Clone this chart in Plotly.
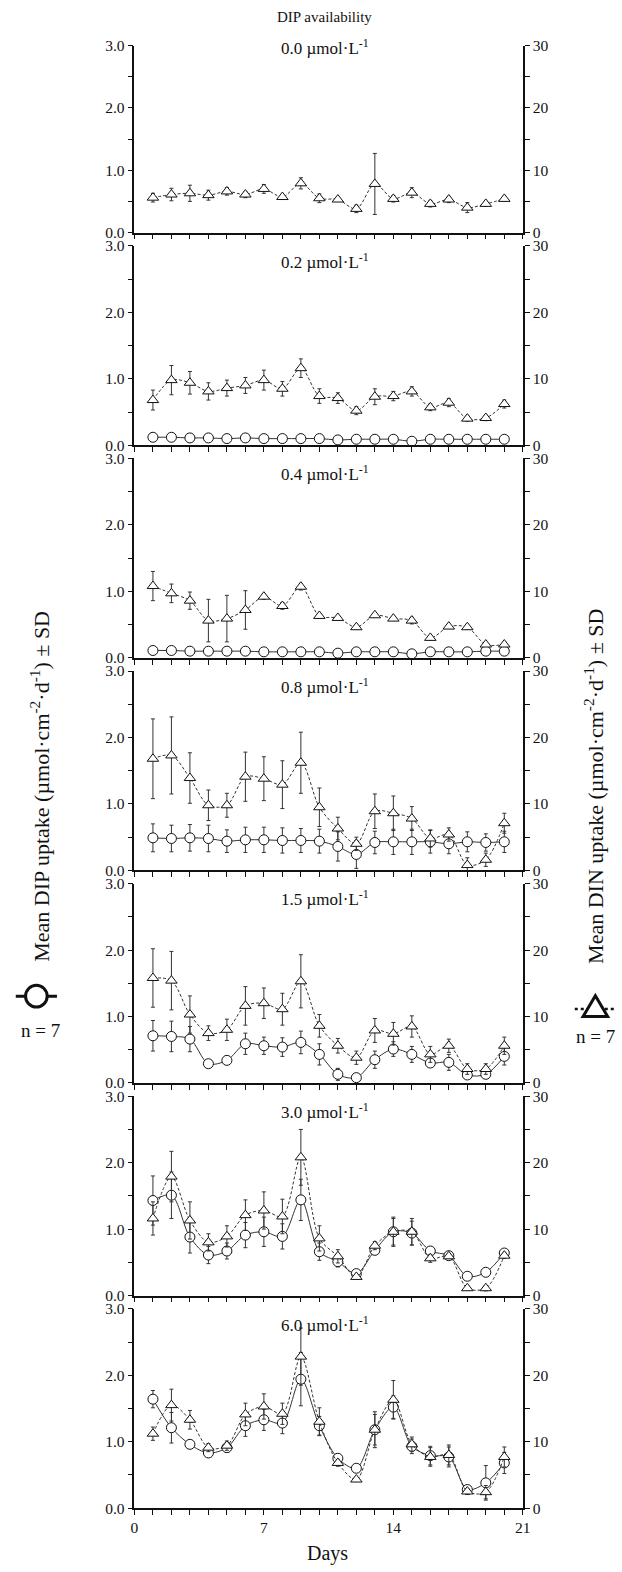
import plotly.graph_objects as go

# ---- data -------------------------------------------------------------
DAYS = [1, 2, 3, 4, 5, 6, 7, 8, 9, 10, 11, 12, 13, 14, 15, 16, 17, 18, 19, 20]
DIP_LEVELS = ["0.0", "0.2", "0.4", "0.8", "1.5", "3.0", "6.0"]

# DIP uptake (left axis, µmol·cm-2·d-1); no DIP series without phosphate
dip_00 = None
dip_00_sd = None
dip_02 = [0.12, 0.12, 0.11, 0.11, 0.10, 0.11, 0.10, 0.10, 0.10, 0.10, 0.08, 0.09, 0.09, 0.09, 0.06, 0.09, 0.09, 0.09, 0.09, 0.09]
dip_02_sd = [0.01, 0.01, 0.01, 0.01, 0.01, 0.01, 0.01, 0.01, 0.01, 0.01, 0.01, 0.01, 0.01, 0.01, 0.01, 0.01, 0.01, 0.01, 0.01, 0.01]
dip_04 = [0.11, 0.11, 0.10, 0.10, 0.10, 0.10, 0.09, 0.09, 0.09, 0.09, 0.07, 0.09, 0.09, 0.09, 0.06, 0.09, 0.09, 0.09, 0.10, 0.10]
dip_04_sd = [0.01, 0.01, 0.01, 0.01, 0.01, 0.01, 0.01, 0.01, 0.01, 0.01, 0.01, 0.01, 0.01, 0.01, 0.01, 0.01, 0.01, 0.01, 0.01, 0.01]
dip_08 = [0.49, 0.48, 0.49, 0.48, 0.44, 0.46, 0.46, 0.45, 0.45, 0.44, 0.36, 0.24, 0.42, 0.43, 0.43, 0.43, 0.40, 0.43, 0.42, 0.43]
dip_08_sd = [0.21, 0.20, 0.20, 0.20, 0.17, 0.19, 0.19, 0.19, 0.18, 0.18, 0.22, 0.21, 0.17, 0.19, 0.19, 0.17, 0.15, 0.15, 0.13, 0.16]
dip_15 = [0.71, 0.70, 0.66, 0.29, 0.34, 0.59, 0.56, 0.54, 0.61, 0.43, 0.13, 0.08, 0.35, 0.51, 0.43, 0.30, 0.31, 0.12, 0.13, 0.40]
dip_15_sd = [0.23, 0.23, 0.19, 0.02, 0.02, 0.16, 0.13, 0.14, 0.17, 0.16, 0.09, 0.05, 0.13, 0.11, 0.12, 0.05, 0.12, 0.04, 0.06, 0.13]
dip_30 = [1.43, 1.51, 0.88, 0.61, 0.67, 0.91, 0.96, 0.89, 1.44, 0.66, 0.51, 0.33, 0.68, 0.96, 0.94, 0.67, 0.60, 0.29, 0.35, 0.64]
dip_30_sd = [0.37, 0.35, 0.24, 0.13, 0.12, 0.19, 0.22, 0.19, 0.31, 0.13, 0.08, 0.03, 0.06, 0.20, 0.18, 0.06, 0.03, 0.03, 0.04, 0.04]
dip_60 = [1.64, 1.21, 0.96, 0.83, 0.91, 1.24, 1.33, 1.28, 1.94, 1.24, 0.75, 0.60, 1.18, 1.52, 0.93, 0.79, 0.77, 0.28, 0.38, 0.68]
dip_60_sd = [0.13, 0.23, 0.03, 0.06, 0.07, 0.16, 0.16, 0.16, 0.40, 0.14, 0.05, 0.03, 0.23, 0.17, 0.11, 0.14, 0.15, 0.04, 0.26, 0.16]

# DIN uptake (right axis, µmol·cm-2·d-1)
din_00 = [5.6, 6.1, 6.3, 6.0, 6.6, 6.1, 7.0, 5.7, 7.9, 5.5, 5.3, 3.8, 7.8, 5.4, 6.4, 4.6, 5.3, 4.0, 4.6, 5.4]
din_00_sd = [0.7, 1.0, 1.3, 0.8, 0.6, 0.5, 0.7, 0.4, 0.9, 0.7, 0.3, 0.6, 4.9, 0.5, 0.8, 0.5, 0.5, 0.8, 0.4, 0.4]
din_02 = [6.8, 9.8, 9.4, 8.1, 8.6, 9.0, 9.8, 8.5, 11.6, 7.4, 7.1, 5.2, 7.3, 7.4, 8.1, 5.7, 6.4, 4.0, 4.1, 6.2]
din_02_sd = [1.5, 2.2, 1.7, 1.3, 1.2, 1.2, 1.5, 1.1, 1.4, 1.1, 0.8, 0.6, 1.2, 0.7, 0.7, 0.5, 0.6, 0.4, 0.4, 0.6]
din_04 = [10.8, 9.7, 8.6, 5.6, 5.9, 7.2, 9.2, 7.8, 10.7, 6.3, 6.0, 4.6, 6.4, 5.9, 5.6, 3.0, 4.7, 4.6, 2.0, 2.0]
din_04_sd = [2.2, 1.4, 1.3, 3.2, 3.5, 2.9, 0.4, 0.5, 0.5, 0.3, 0.3, 0.3, 0.3, 0.3, 0.5, 0.3, 0.3, 0.3, 0.3, 0.3]
din_08 = [16.8, 17.3, 13.9, 9.8, 9.8, 14.1, 13.8, 12.9, 16.2, 9.5, 6.3, 4.0, 8.9, 8.6, 7.8, 4.8, 5.4, 0.8, 1.6, 7.1]
din_08_sd = [6.0, 5.8, 3.8, 2.3, 1.8, 3.7, 3.3, 3.6, 4.6, 2.9, 1.7, 1.0, 2.6, 2.6, 1.8, 1.3, 1.0, 1.1, 1.0, 1.5]
din_15 = [15.8, 15.4, 10.3, 7.5, 8.0, 11.6, 12.0, 11.1, 15.3, 8.6, 5.6, 3.8, 7.9, 7.4, 8.5, 4.3, 5.6, 2.1, 2.1, 5.6]
din_15_sd = [4.4, 4.4, 2.8, 1.1, 1.6, 2.9, 2.3, 2.4, 4.0, 1.7, 1.1, 1.0, 1.8, 1.7, 1.6, 1.2, 1.0, 0.8, 0.8, 1.3]
din_30 = [11.6, 17.9, 11.3, 8.0, 8.9, 12.1, 12.8, 11.9, 20.8, 8.6, 5.9, 2.8, 7.5, 9.6, 9.6, 5.6, 5.9, 1.1, 1.1, 6.0]
din_30_sd = [2.5, 3.8, 2.8, 1.3, 1.6, 2.3, 2.8, 2.6, 4.2, 1.9, 1.0, 0.3, 0.6, 2.2, 2.0, 0.6, 0.3, 0.3, 0.4, 0.4]
din_60 = [11.2, 15.5, 13.3, 9.1, 9.4, 14.1, 15.3, 14.2, 22.8, 13.0, 6.8, 4.3, 11.8, 16.3, 9.6, 7.7, 8.0, 2.5, 2.4, 7.7]
din_60_sd = [1.0, 2.4, 1.4, 0.6, 0.7, 1.7, 1.9, 1.6, 4.3, 2.1, 0.5, 0.3, 2.7, 2.9, 1.1, 1.4, 1.5, 0.4, 1.0, 1.5]

DIP_SERIES = [(dip_00, dip_00_sd), (dip_02, dip_02_sd), (dip_04, dip_04_sd), (dip_08, dip_08_sd),
              (dip_15, dip_15_sd), (dip_30, dip_30_sd), (dip_60, dip_60_sd)]
DIN_SERIES = [(din_00, din_00_sd), (din_02, din_02_sd), (din_04, din_04_sd), (din_08, din_08_sd),
              (din_15, din_15_sd), (din_30, din_30_sd), (din_60, din_60_sd)]

# ---- geometry (pixels) --------------------------------------------------
W, H = 622, 1572
PLOT_L, PLOT_R = 133, 529
FIRST_TOP, FIRST_BOTTOM = 37, 226          # top panel is a little shorter
REST_TOP, REST_PITCH, REST_H = 239.5, 214.9, 201.5
SERIF = "Liberation Serif, Times New Roman, serif"
INK = "#111111"
LINE_INK = "#333333"


def fx(px):
    return px / W


def fy(py):
    return 1 - py / H


def panel_box(i):
    if i == 0:
        return FIRST_TOP, FIRST_BOTTOM
    top = REST_TOP + (i - 1) * REST_PITCH
    return top, top + REST_H


def tick_style(dtick, minor_dtick, fmt=None):
    d = dict(
        showline=True, linecolor=INK, linewidth=1.5, showgrid=False, zeroline=False,
        ticks="outside", tickmode="linear", tick0=0, dtick=dtick, ticklen=5, tickwidth=1.2,
        tickcolor=INK, tickfont=dict(family=SERIF, size=15.5, color=INK),
        minor=dict(ticks="outside", dtick=minor_dtick, tick0=0, ticklen=5, tickwidth=1.2,
                   tickcolor=INK),
    )
    if fmt:
        d["tickformat"] = fmt
    return d


fig = go.Figure()
n = len(DIP_LEVELS)

for i in range(n):
    top, bot = panel_box(i)
    xa = "x" if i == 0 else f"x{i + 1}"
    ya = "y" if i == 0 else f"y{i + 1}"
    ya2 = f"y{n + i + 1}"
    last = i == n - 1

    xkey = "xaxis" if i == 0 else f"xaxis{i + 1}"
    ykey = "yaxis" if i == 0 else f"yaxis{i + 1}"
    y2key = f"yaxis{n + i + 1}"

    fig.layout[xkey] = dict(domain=[fx(PLOT_L), fx(PLOT_R)], anchor=ya, range=[0, 21],
                            showticklabels=last, **tick_style(7, 1))
    fig.layout[ykey] = dict(domain=[fy(bot), fy(top)], anchor=xa, range=[0, 3],
                            **tick_style(1, 0.5, ".1f"))
    fig.layout[y2key] = dict(domain=[fy(bot), fy(top)], anchor=xa, overlaying=ya, side="right",
                             range=[0, 30], **tick_style(10, 5))

    dip, dip_sd = DIP_SERIES[i]
    if dip is None:
        # keeps the left-axis subplot alive when only DIN is measured
        fig.add_trace(go.Scatter(x=[], y=[], xaxis=xa, yaxis=ya, mode="markers",
                                 showlegend=False, hoverinfo="skip"))

    din, din_sd = DIN_SERIES[i]
    fig.add_trace(go.Scatter(
        x=DAYS, y=din, xaxis=xa, yaxis=ya2, mode="lines+markers", cliponaxis=False,
        line=dict(color=LINE_INK, width=1, dash="3px,2px", shape="spline", smoothing=0.9),
        marker=dict(symbol="triangle-up", size=10, color="white", line=dict(color=INK, width=1)),
        error_y=dict(type="data", array=din_sd, visible=True, color=LINE_INK, thickness=1, width=2),
        showlegend=False, hoverinfo="skip",
    ))

    if dip is not None:
        fig.add_trace(go.Scatter(
            x=DAYS, y=dip, xaxis=xa, yaxis=ya, mode="lines+markers", cliponaxis=False,
            line=dict(color=LINE_INK, width=1, shape="spline", smoothing=0.9),
            marker=dict(symbol="circle", size=10, color="white", line=dict(color=INK, width=1)),
            error_y=dict(type="data", array=dip_sd, visible=True, color=LINE_INK, thickness=1, width=2),
            showlegend=False, hoverinfo="skip",
        ))

    fig.add_annotation(
        x=fx((PLOT_L + PLOT_R) / 2 - 4), y=fy(top + (1 if i == 0 else 15)), xref="paper", yref="paper",
        text=f"{DIP_LEVELS[i]} µmol·L<sup>-1</sup>", showarrow=False,
        xanchor="center", yanchor="middle", font=dict(family=SERIF, size=17, color=INK),
    )

# header, x title, outer y titles
fig.add_annotation(x=fx(327), y=fy(8), xref="paper", yref="paper", text="DIP availability",
                   showarrow=False, xanchor="center", yanchor="middle",
                   font=dict(family=SERIF, size=15, color=INK))
fig.add_annotation(x=fx(330), y=fy(1561), xref="paper", yref="paper", text="Days",
                   showarrow=False, xanchor="center", yanchor="middle",
                   font=dict(family=SERIF, size=20, color=INK))
fig.add_annotation(x=fx(36), y=fy(786), xref="paper", yref="paper",
                   text="Mean DIP uptake (µmol·cm<sup>-2</sup>·d<sup>-1</sup>) ± SD",
                   textangle=-90, showarrow=False, xanchor="center", yanchor="middle",
                   font=dict(family=SERIF, size=22, color=INK))
fig.add_annotation(x=fx(601), y=fy(786), xref="paper", yref="paper",
                   text="Mean DIN uptake (µmol·cm<sup>-2</sup>·d<sup>-1</sup>) ± SD",
                   textangle=-90, showarrow=False, xanchor="center", yanchor="middle",
                   font=dict(family=SERIF, size=22, color=INK))
fig.add_annotation(x=fx(37), y=fy(1033), xref="paper", yref="paper", text="n = 7",
                   showarrow=False, xanchor="center", yanchor="middle",
                   font=dict(family=SERIF, size=19, color=INK))
fig.add_annotation(x=fx(603), y=fy(1039), xref="paper", yref="paper", text="n = 7",
                   showarrow=False, xanchor="center", yanchor="middle",
                   font=dict(family=SERIF, size=19, color=INK))

# key glyphs: open circle on a solid line, open triangle on a dotted line
cx, cy, r = 33, 998, 11
fig.add_shape(type="line", xref="paper", yref="paper", x0=fx(12), x1=fx(54), y0=fy(cy), y1=fy(cy),
              line=dict(color=INK, width=3))
fig.add_shape(type="circle", xref="paper", yref="paper", x0=fx(cx - r), x1=fx(cx + r),
              y0=fy(cy + r), y1=fy(cy - r), fillcolor="white", line=dict(color=INK, width=3))
tx, ty, tw, th = 603, 1008, 25, 21
fig.add_shape(type="line", xref="paper", yref="paper", x0=fx(582), x1=fx(623), y0=fy(ty + 3), y1=fy(ty + 3),
              line=dict(color=INK, width=2.5, dash="dot"), layer="below")
tri = (f"M {fx(tx - tw / 2)},{fy(ty + th / 2)} L {fx(tx + tw / 2)},{fy(ty + th / 2)} "
       f"L {fx(tx)},{fy(ty - th / 2)} Z")
fig.add_shape(type="path", xref="paper", yref="paper", path=tri, fillcolor="white",
              line=dict(color=INK, width=3))

fig.update_layout(
    width=W, height=H, autosize=False,
    margin=dict(l=0, r=0, t=0, b=0, pad=0),
    paper_bgcolor="white", plot_bgcolor="white",
    showlegend=False,
    font=dict(family=SERIF, color=INK),
)

fig.write_html("out.html")
